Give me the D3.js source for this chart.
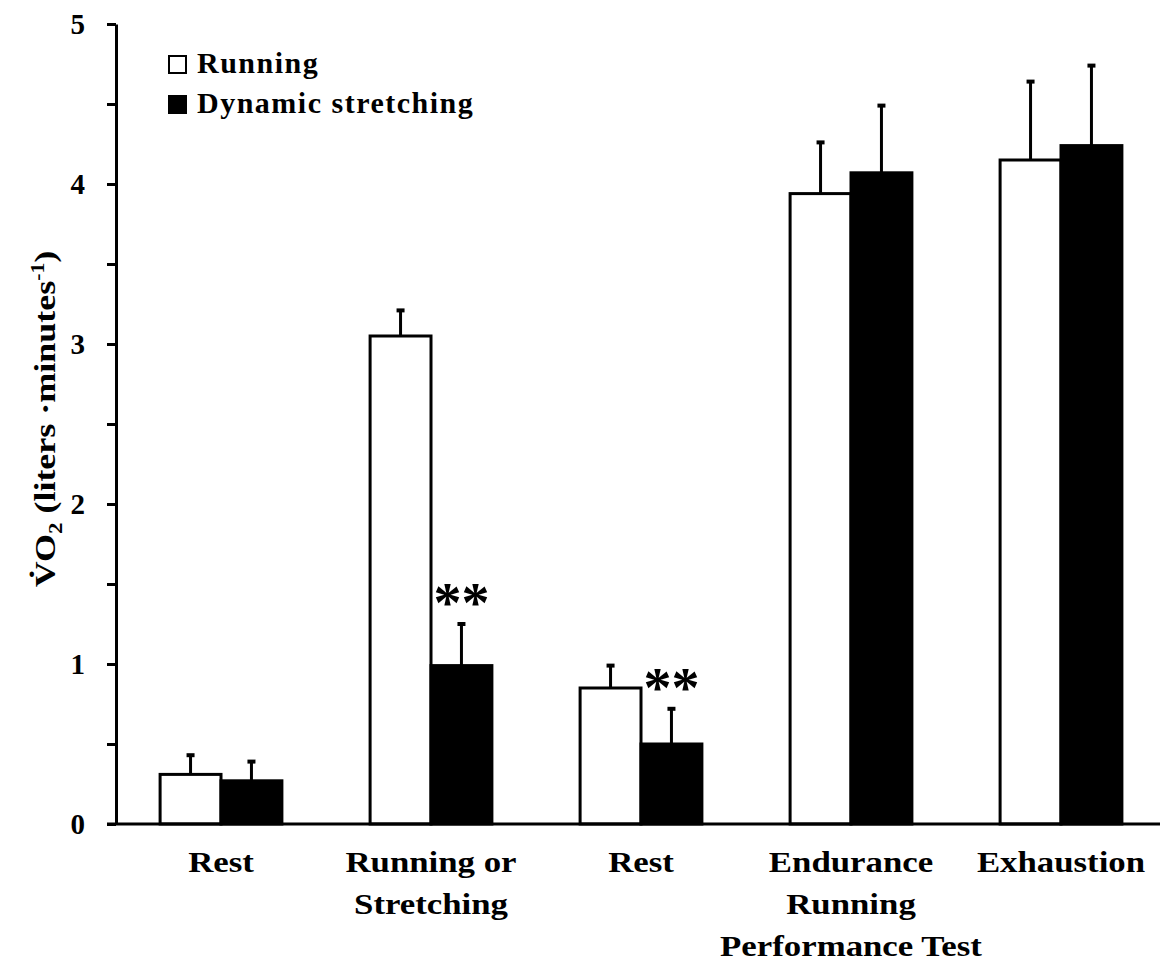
<!DOCTYPE html>
<html>
<head>
<meta charset="utf-8">
<script src="https://cdn.jsdelivr.net/npm/d3@7"></script>
<style>
  body { margin: 0; background: #fff; }
  text { font-family: "Liberation Serif", "Times New Roman", serif; font-weight: bold; fill: #000; }
</style>
</head>
<body>
<svg id="chart" width="1163" height="974"></svg>
<script>
// values (liters/min), mean and upper SD
var categories = [["Rest"], ["Running or", "Stretching"], ["Rest"],
                  ["Endurance", "Running", "Performance Test"], ["Exhaustion"]];
var seriesNames = ["Running", "Dynamic stretching"];
var runningMean = [0.31, 3.05, 0.85, 3.94, 4.15];
var runningSD = [0.12, 0.16, 0.14, 0.32, 0.49];
var stretchingMean = [0.27, 0.99, 0.50, 4.07, 4.24];
var stretchingSD = [0.12, 0.26, 0.22, 0.42, 0.50];
var stretchingMarks = ["", "**", "**", "", ""];
var yTickValues = [0, 0.5, 1, 1.5, 2, 2.5, 3, 3.5, 4, 4.5, 5];

var svg = d3.select("#chart");
var stretchX = 1.2;   // the source type is wider than Times

var x0 = d3.scaleBand()
    .domain(d3.range(categories.length))
    .range([116, 1166])
    .paddingInner(0.42)
    .paddingOuter(0.21);
var x1 = d3.scaleBand()
    .domain([0, 1])
    .range([0, x0.bandwidth()]);
var y = d3.scaleLinear()
    .domain([0, 5])
    .range([824, 24]);

var series = [
    {name: seriesNames[0], mean: runningMean, sd: runningSD, fill: "#fff", marks: null},
    {name: seriesNames[1], mean: stretchingMean, sd: stretchingSD, fill: "#000", marks: stretchingMarks}
];

// bars
var groups = svg.append("g").selectAll("g")
    .data(series)
  .enter().append("g");

groups.each(function(s, si) {
    var g = d3.select(this);
    var rows = s.mean.map(function(v, i) {
        return {i: i, v: v, sd: s.sd[i], mark: s.marks ? s.marks[i] : ""};
    });
    var cx = function(d) { return x0(d.i) + x1(si) + x1.bandwidth() / 2; };

    g.selectAll("rect")
        .data(rows)
      .enter().append("rect")
        .attr("x", function(d) { return x0(d.i) + x1(si); })
        .attr("y", function(d) { return y(d.v); })
        .attr("width", x1.bandwidth())
        .attr("height", function(d) { return y(0) - y(d.v); })
        .attr("fill", s.fill)
        .attr("stroke", "#000")
        .attr("stroke-width", 3);

    // upper error bars only
    g.selectAll("line.err")
        .data(rows)
      .enter().append("line")
        .attr("class", "err")
        .attr("x1", cx).attr("x2", cx)
        .attr("y1", function(d) { return y(d.v); })
        .attr("y2", function(d) { return y(d.v + d.sd); })
        .attr("stroke", "#000")
        .attr("stroke-width", 3);
    g.selectAll("line.cap")
        .data(rows)
      .enter().append("line")
        .attr("class", "cap")
        .attr("x1", function(d) { return cx(d) - 4; })
        .attr("x2", function(d) { return cx(d) + 4; })
        .attr("y1", function(d) { return y(d.v + d.sd); })
        .attr("y2", function(d) { return y(d.v + d.sd); })
        .attr("stroke", "#000")
        .attr("stroke-width", 4);

    g.selectAll("text.sig")
        .data(rows.filter(function(d) { return d.mark; }))
      .enter().append("text")
        .attr("class", "sig")
        .attr("x", cx)
        .attr("y", function(d) { return y(d.v + d.sd) - 2; })
        .attr("text-anchor", "middle")
        .style("font-size", "56px")
        .text(function(d) { return d.mark; });
});

// y axis
var yAxis = d3.axisLeft(y)
    .tickValues(yTickValues)
    .tickSize(9)
    .tickSizeOuter(0)
    .tickPadding(22)
    .tickFormat(function(d) { return d % 1 === 0 ? d : ""; });

var ag = svg.append("g")
    .attr("transform", "translate(116,0)")
    .call(yAxis);
ag.select(".domain").attr("stroke-width", 3);
ag.selectAll(".tick line").attr("stroke-width", 3);
ag.selectAll(".tick text")
    .style("font-size", "29px");

// x axis is a bare line
svg.append("line")
    .attr("x1", 107).attr("x2", 1160)
    .attr("y1", y(0)).attr("y2", y(0))
    .attr("stroke", "#000")
    .attr("stroke-width", 3);

// category labels
svg.append("g").selectAll("g")
    .data(categories)
  .enter().append("g")
    .attr("transform", function(d, i) {
        return "translate(" + (x0(i) + x0.bandwidth() / 2) + ",0) scale(" + stretchX + ",1)";
    })
    .each(function(lines) {
        d3.select(this).selectAll("text")
            .data(lines)
          .enter().append("text")
            .attr("text-anchor", "middle")
            .attr("y", function(d, k) { return 872 + k * 42; })
            .style("font-size", "29px")
            .text(function(d) { return d; });
    });

// y label
var yl = svg.append("g")
    .attr("transform", "translate(55,419) rotate(-90) scale(" + stretchX + ",1)")
  .append("text")
    .attr("text-anchor", "middle")
    .style("font-size", "30px");
yl.append("tspan").text("V\u0307O");
yl.append("tspan").attr("dy", 7).style("font-size", "19px").text("2");
yl.append("tspan").attr("dy", -7).text(" (liters \u00b7minutes");
yl.append("tspan").attr("dy", -11).style("font-size", "18px").text("-1");
yl.append("tspan").attr("dy", 11).text(")");

// legend
var legend = svg.append("g").selectAll("g")
    .data(series)
  .enter().append("g")
    .attr("transform", function(d, i) { return "translate(169," + (56 + i * 40) + ")"; });
legend.append("rect")
    .attr("width", 17).attr("height", 17)
    .attr("fill", function(d) { return d.fill; })
    .attr("stroke", "#000")
    .attr("stroke-width", 2);
legend.append("text")
    .attr("x", 28).attr("y", 17)
    .style("font-size", "30px")
    .style("letter-spacing", "1.5px")
    .text(function(d) { return d.name; });
</script>
</body>
</html>
